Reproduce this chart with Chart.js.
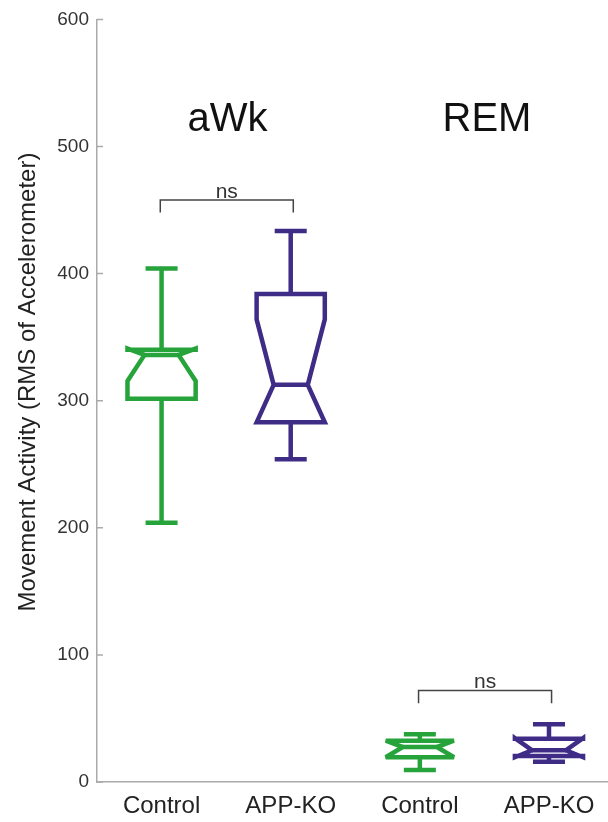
<!DOCTYPE html>
<html>
<head>
<meta charset="utf-8">
<script src="https://cdn.jsdelivr.net/npm/chart.js@4/dist/chart.umd.min.js"></script>
<style>
  html, body { margin: 0; padding: 0; background: #fff; }
  #wrap { width: 608px; height: 822px; }
</style>
</head>
<body>
<div id="wrap"><canvas id="chart"></canvas></div>
<script>
// group positions and labels
const positions = [1, 2, 3, 4];
const groupLabels = ["Control", "APP-KO", "Control", "APP-KO"];
const groupColors = ["#27a33b", "#3e2c86", "#27a33b", "#3e2c86"];

// box plot statistics
const whiskerLow  = [204, 254, 9.5, 16];
const q1          = [301.5, 283, 19.5, 20.5];
const notchLow    = [315.5, 283, 19.5, 19.5];
const median      = [336, 312.5, 27.5, 25];
const notchHigh   = [341, 364, 32.5, 34.5];
const q3          = [340, 384, 32.5, 34];
const whiskerHigh = [404, 433.5, 37.5, 45.5];

const yTicks = [0, 100, 200, 300, 400, 500, 600];

// panel titles and significance brackets
const panelTitles = ["aWk", "REM"];
const panelTitleX = [1.51, 3.52];
const panelTitleY = 512;
const bracketFrom = [1, 3];
const bracketTo = [2, 4];
const bracketTop = [458, 72];
const bracketText = ["ns", "ns"];

const yTitle = "Movement Activity (RMS of Accelerometer)";

const FONT = "'Liberation Sans', Arial, sans-serif";

const boxPlugin = {
  id: "boxes",
  afterDatasetsDraw(chart) {
    const { ctx, scales: { x, y } } = chart;
    const halfW = 0.264, capW = 0.124;
    ctx.save();
    ctx.lineWidth = 4.5;
    ctx.lineJoin = "miter";
    ctx.miterLimit = 3;
    positions.forEach((p, i) => {
      const xl = x.getPixelForValue(p - halfW);
      const xr = x.getPixelForValue(p + halfW);
      const xil = x.getPixelForValue(p - halfW / 2);
      const xir = x.getPixelForValue(p + halfW / 2);
      const xc = x.getPixelForValue(p);
      const cl = x.getPixelForValue(p - capW);
      const cr = x.getPixelForValue(p + capW);
      ctx.strokeStyle = groupColors[i];

      // whiskers
      ctx.beginPath();
      ctx.moveTo(xc, y.getPixelForValue(q3[i]));
      ctx.lineTo(xc, y.getPixelForValue(whiskerHigh[i]));
      ctx.moveTo(cl, y.getPixelForValue(whiskerHigh[i]));
      ctx.lineTo(cr, y.getPixelForValue(whiskerHigh[i]));
      ctx.moveTo(xc, y.getPixelForValue(q1[i]));
      ctx.lineTo(xc, y.getPixelForValue(whiskerLow[i]));
      ctx.moveTo(cl, y.getPixelForValue(whiskerLow[i]));
      ctx.lineTo(cr, y.getPixelForValue(whiskerLow[i]));
      ctx.stroke();

      // notched box
      ctx.beginPath();
      ctx.moveTo(xl, y.getPixelForValue(q1[i]));
      ctx.lineTo(xl, y.getPixelForValue(notchLow[i]));
      ctx.lineTo(xil, y.getPixelForValue(median[i]));
      ctx.lineTo(xl, y.getPixelForValue(notchHigh[i]));
      ctx.lineTo(xl, y.getPixelForValue(q3[i]));
      ctx.lineTo(xr, y.getPixelForValue(q3[i]));
      ctx.lineTo(xr, y.getPixelForValue(notchHigh[i]));
      ctx.lineTo(xir, y.getPixelForValue(median[i]));
      ctx.lineTo(xr, y.getPixelForValue(notchLow[i]));
      ctx.lineTo(xr, y.getPixelForValue(q1[i]));
      ctx.closePath();
      ctx.stroke();

      // median
      ctx.beginPath();
      ctx.moveTo(xil, y.getPixelForValue(median[i]));
      ctx.lineTo(xir, y.getPixelForValue(median[i]));
      ctx.stroke();
    });

    // significance brackets
    ctx.strokeStyle = "#444";
    ctx.lineWidth = 1.5;
    ctx.fillStyle = "#333";
    ctx.font = "21px " + FONT;
    ctx.textAlign = "center";
    ctx.textBaseline = "alphabetic";
    bracketFrom.forEach((b, i) => {
      const xa = x.getPixelForValue(b - 0.01);
      const xb = x.getPixelForValue(bracketTo[i] + 0.02);
      const yt = y.getPixelForValue(bracketTop[i]);
      const ye = y.getPixelForValue(bracketTop[i] - 10);
      ctx.beginPath();
      ctx.moveTo(xa, ye);
      ctx.lineTo(xa, yt);
      ctx.lineTo(xb, yt);
      ctx.lineTo(xb, ye);
      ctx.stroke();
      ctx.fillText(bracketText[i], (xa + xb) / 2, yt - 2);
    });

    // panel titles
    ctx.fillStyle = "#111";
    ctx.font = "40px " + FONT;
    panelTitles.forEach((t, i) => {
      ctx.fillText(t, x.getPixelForValue(panelTitleX[i]), y.getPixelForValue(panelTitleY));
    });

    // inside tick marks on the y axis
    ctx.strokeStyle = "#aaa";
    ctx.lineWidth = 1.5;
    ctx.beginPath();
    yTicks.forEach(v => {
      const py = y.getPixelForValue(v);
      ctx.moveTo(x.left, py);
      ctx.lineTo(x.left + 6, py);
    });
    ctx.stroke();

    // y axis title
    ctx.fillStyle = "#222";
    ctx.font = "24px " + FONT;
    ctx.translate(35, 382);
    ctx.rotate(-Math.PI / 2);
    ctx.textBaseline = "alphabetic";
    ctx.fillText(yTitle, 0, 0);
    ctx.restore();
  }
};

const ctx = document.getElementById("chart").getContext("2d");
new Chart(ctx, {
  type: "scatter",
  data: {
    datasets: [{
      data: positions.map((p, i) => ({ x: p, y: median[i] })),
      pointRadius: 0,
      pointHoverRadius: 0
    }]
  },
  options: {
    responsive: true,
    maintainAspectRatio: false,
    animation: false,
    layout: { padding: { top: 18, right: 0, bottom: 0, left: 0 } },
    plugins: {
      legend: { display: false },
      tooltip: { enabled: false }
    },
    scales: {
      x: {
        type: "linear",
        min: 0.5,
        max: 4.457,
        grid: { display: false, drawTicks: false },
        border: { color: "#aaa", width: 1.5 },
        afterBuildTicks: scale => { scale.ticks = positions.map(v => ({ value: v })); },
        afterFit: scale => { scale.height = 40; },
        ticks: {
          padding: 10,
          color: "#222",
          font: { family: FONT, size: 24 },
          maxRotation: 0,
          callback: (v) => groupLabels[positions.indexOf(v)] || ""
        }
      },
      y: {
        min: 0,
        max: 600,
        grid: { display: false, drawTicks: false },
        border: { color: "#aaa", width: 1.5 },
        afterBuildTicks: scale => { scale.ticks = yTicks.map(v => ({ value: v })); },
        afterFit: scale => { scale.width = 97; },
        ticks: {
          padding: 8,
          color: "#333",
          font: { family: FONT, size: 19 }
        }
      }
    }
  },
  plugins: [boxPlugin]
});
</script>
</body>
</html>
